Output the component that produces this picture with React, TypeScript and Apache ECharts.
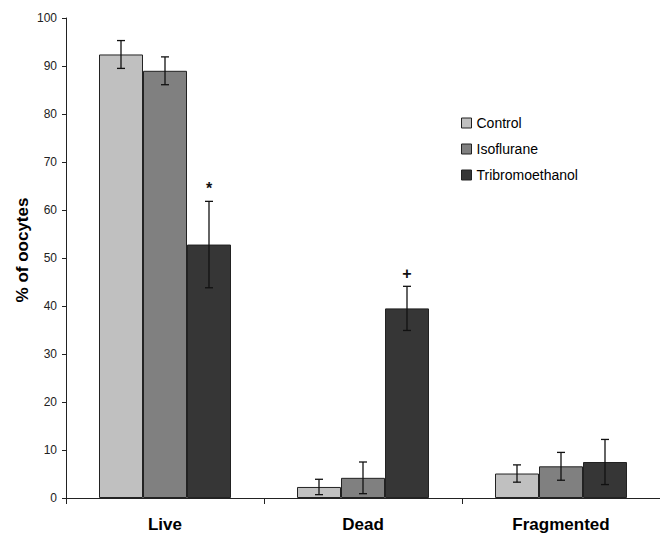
import React, { useEffect, useRef } from "react";
import * as echarts from "echarts";

const categories = ["Live", "Dead", "Fragmented"];
const seriesNames = ["Control", "Isoflurane", "Tribromoethanol"];
const controlValues = [92.4, 2.3, 5.1];
const isofluraneValues = [89.0, 4.2, 6.6];
const tribromoValues = [52.8, 39.5, 7.5];
const controlErrors = [2.9, 1.6, 1.8];
const isofluraneErrors = [2.9, 3.3, 2.9];
const tribromoErrors = [9.0, 4.6, 4.7];
const tribromoMarks = ["*", "+", ""];
const yTicks = { min: 0, max: 100, interval: 10 };
const yAxisTitle = "% of oocytes";

const colors = ["#c0c0c0", "#808080", "#363636"];
const FONT = 'Arial, "Liberation Sans", sans-serif';
const BAR_W = 44;

export default function App() {
  const ref = useRef<HTMLDivElement>(null);
  useEffect(() => {
    document.body.style.margin = "0";
    const chart = echarts.init(ref.current!, null, { renderer: "svg" });
    const values = [controlValues, isofluraneValues, tribromoValues];
    const errors = [controlErrors, isofluraneErrors, tribromoErrors];
    const marks = [["", "", ""], ["", "", ""], tribromoMarks];

    const barSeries = seriesNames.map((name, i) => ({
      name,
      type: "bar",
      data: values[i],
      barWidth: BAR_W,
      barGap: "0%",
      itemStyle: { color: colors[i], borderColor: "#222", borderWidth: 1 },
      z: 2,
    }));

    const errSeries = seriesNames.map((name, si) => ({
      type: "custom",
      name: name + " error",
      z: 5,
      silent: true,
      data: categories.map((_, ci) => [ci, values[si][ci], errors[si][ci]]),
      renderItem: (params: any, api: any) => {
        const ci = api.value(0);
        const v = api.value(1);
        const e = api.value(2);
        const center = api.coord([ci, v]);
        const x = center[0] + (si - 1) * BAR_W;
        const yTop = api.coord([ci, v + e])[1];
        const yBot = api.coord([ci, v - e])[1];
        const cap = 4;
        const st = { stroke: "#111", lineWidth: 1.3 };
        const children: any[] = [
          { type: "line", shape: { x1: x, y1: yTop, x2: x, y2: yBot }, style: st },
          { type: "line", shape: { x1: x - cap, y1: yTop, x2: x + cap, y2: yTop }, style: st },
          { type: "line", shape: { x1: x - cap, y1: yBot, x2: x + cap, y2: yBot }, style: st },
        ];
        const m = marks[si][ci];
        if (m) {
          children.push({
            type: "text",
            style: {
              text: m,
              x,
              y: yTop - 13,
              align: "center",
              verticalAlign: "middle",
              fontSize: 16,
              fontWeight: "bold",
              fontFamily: FONT,
              fill: "#111",
            },
          });
        }
        return { type: "group", children };
      },
    }));

    chart.setOption({
      animation: false,
      backgroundColor: "#fff",
      grid: { left: 66, right: 0, top: 18, bottom: 34 },
      legend: {
        orient: "vertical",
        left: 456,
        top: 110,
        data: seriesNames,
        icon: "rect",
        itemWidth: 10,
        itemHeight: 10,
        itemGap: 10,
        itemStyle: { borderColor: "#222", borderWidth: 1 },
        textStyle: { fontSize: 14, fontFamily: FONT, color: "#000", lineHeight: 16 },
      },
      graphic: [
        {
          type: "text",
          x: 22,
          y: 250,
          rotation: Math.PI / 2,
          style: {
            text: yAxisTitle,
            align: "center",
            verticalAlign: "middle",
            fontSize: 17,
            fontWeight: "bold",
            fontFamily: FONT,
            fill: "#000",
          },
        },
      ],
      xAxis: {
        type: "category",
        data: categories,
        axisLine: { lineStyle: { color: "#222", width: 1 } },
        axisTick: { show: true, alignWithLabel: false, length: 6, lineStyle: { color: "#222" } },
        axisLabel: { fontSize: 17, fontWeight: "bold", fontFamily: FONT, color: "#000", margin: 18 },
      },
      yAxis: {
        type: "value",
        min: yTicks.min,
        max: yTicks.max,
        interval: yTicks.interval,
        axisLine: { show: true, lineStyle: { color: "#222", width: 1 } },
        axisTick: { show: true, length: 4, lineStyle: { color: "#222" } },
        axisLabel: { fontSize: 12, fontFamily: FONT, color: "#222", margin: 9 },
        splitLine: { show: false },
      },
      series: [...barSeries, ...errSeries],
    });
    return () => chart.dispose();
  }, []);
  return <div ref={ref} style={{ width: 660, height: 533 }} />;
}
